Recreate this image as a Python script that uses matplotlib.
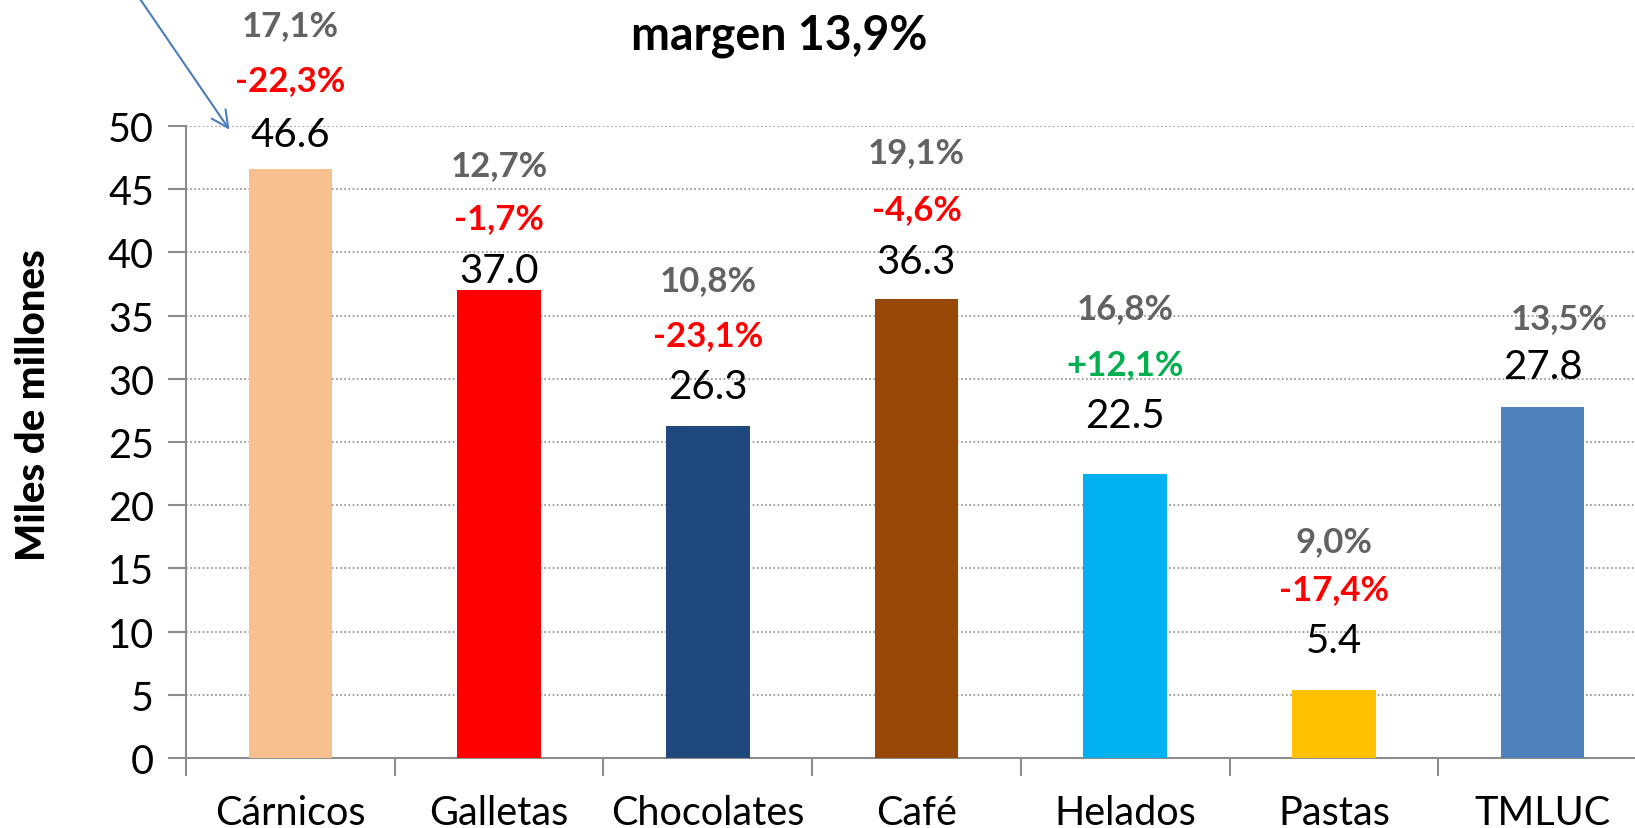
import matplotlib.pyplot as plt

categories = ["Cárnicos", "Galletas", "Chocolates", "Café", "Helados", "Pastas", "TMLUC"]
values = [46.6, 37.0, 26.3, 36.3, 22.5, 5.4, 27.8]
margins = ["17,1%", "12,7%", "10,8%", "19,1%", "16,8%", "9,0%", "13,5%"]
changes = ["-22,3%", "-1,7%", "-23,1%", "-4,6%", "+12,1%", "-17,4%", None]
value_text = ["46.6", "37.0", "26.3", "36.3", "22.5", "5.4", "27.8"]
title = "margen 13,9%"

bar_colors = ["#F9C08F", "#FF0000", "#1F497D", "#974806", "#00B0F0", "#FFC000", "#4F81BD"]
# label heights (data units)
value_y = [49.3, 38.6, 29.4, 39.3, 27.1, 9.3, 31.0]
change_y = [53.6, 42.7, 33.5, 43.4, 31.2, 13.4, None]
margin_y = [58.0, 46.9, 37.8, 47.9, 35.6, 17.2, 34.8]

plt.rcParams['font.family'] = ['Lato', 'DejaVu Sans']

W, H = 1635, 829
fig = plt.figure(figsize=(W / 100, H / 100), dpi=100)
left, right, top, bottom = 186, 1647, 127, 759
ax = fig.add_axes([left / W, 1 - bottom / H, (right - left) / W, (bottom - top) / H])

x = range(len(categories))
ax.bar(x, values, width=0.4, color=bar_colors, zorder=3)
ax.set_xlim(-0.5, len(categories) - 0.5)
ax.set_ylim(0, 50)
ax.set_yticks(range(0, 51, 5))
ax.yaxis.grid(True, linestyle=(0, (1, 1.5)), color="#8c8c8c", linewidth=1.2, zorder=0)

ax.set_xticks(list(x))
ax.set_xticklabels(categories, fontsize=28.5)
ax.set_xticks([i + 0.5 for i in range(-1, len(categories))], minor=True)
ax.tick_params(axis='x', which='major', length=0, pad=26)
ax.tick_params(axis='x', which='minor', length=13, width=1.5, color="#8c8c8c", direction='out')
ax.tick_params(axis='y', length=13, width=1.5, color="#8c8c8c", labelsize=28.5, pad=10)

for s in ["top", "right"]:
    ax.spines[s].set_visible(False)
for s in ["left", "bottom"]:
    ax.spines[s].set_color("#8c8c8c")
    ax.spines[s].set_linewidth(1.5)

ax.set_ylabel("Miles de millones", fontsize=29, fontweight='black')
ax.yaxis.set_label_coords((52 - left) / (right - left), (bottom - 405) / (bottom - top))

for i in x:
    ax.text(i, value_y[i], value_text[i], ha='center', va='center', fontsize=29, clip_on=False)
    if changes[i] is not None:
        col = "#00B050" if changes[i].startswith("+") else "#FF0000"
        ax.text(i, change_y[i], changes[i], ha='center', va='center', fontsize=25,
                fontweight='bold', color=col, clip_on=False)
    dx = 0.08 if changes[i] is None else 0.0
    ax.text(i + dx, margin_y[i], margins[i], ha='center', va='center', fontsize=25,
            fontweight='bold', color="#626262", clip_on=False)

fig.text(779 / W, 1 - 36 / H, title, ha='center', va='center', fontsize=33.5, fontweight='bold')

ax.annotate("", xy=(231 / W, 1 - 133 / H), xycoords='figure fraction',
            xytext=(138 / W, 1 + 3 / H), textcoords='figure fraction',
            arrowprops=dict(arrowstyle='->', color="#4A7EBB", lw=1.5, mutation_scale=30))

fig.savefig("out.png", dpi=100)
